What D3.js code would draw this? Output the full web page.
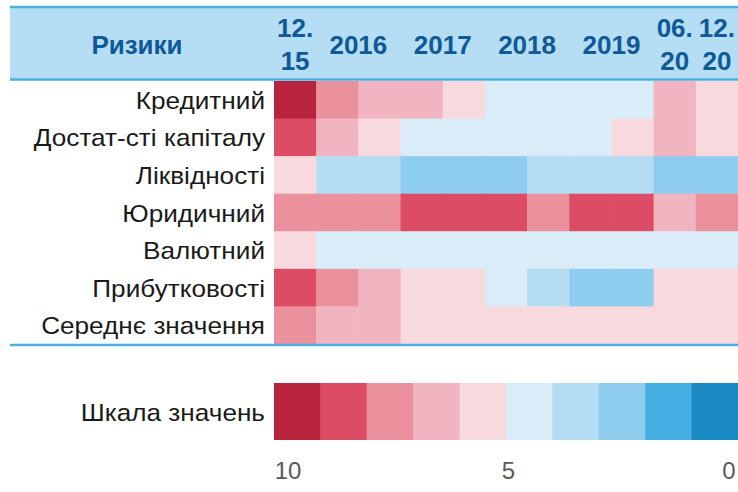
<!DOCTYPE html>
<html><head><meta charset="utf-8">
<script src="https://cdn.jsdelivr.net/npm/d3@7"></script>
<style>
html,body{margin:0;padding:0;background:#fff;}
svg{display:block;font-family:"Liberation Sans",Arial,sans-serif;}
</style></head>
<body><svg id="chart" width="738" height="492"></svg>
<script>
// ---- data ----
const risks = ["Кредитний","Достат-сті капіталу","Ліквідності","Юридичний","Валютний","Прибутковості","Середнє значення"];
const periods = ["12.15","06.16","12.16","06.17","12.17","06.18","12.18","06.19","12.19","06.20","12.20"];
const headerGroups = [
  {label:["12.","15"], from:"12.15", to:"12.15"},
  {label:["2016"], from:"06.16", to:"12.16"},
  {label:["2017"], from:"06.17", to:"12.17"},
  {label:["2018"], from:"06.18", to:"12.18"},
  {label:["2019"], from:"06.19", to:"12.19"},
  {label:["06.","20"], from:"06.20", to:"06.20"},
  {label:["12.","20"], from:"12.20", to:"12.20"}
];
const creditRisk    = [9.5,7.5,6.5,6.5,5.5,4.5,4.5,4.5,4.5,6.5,5.5];
const capitalRisk   = [8.5,6.5,5.5,4.5,4.5,4.5,4.5,4.5,5.5,6.5,5.5];
const liquidityRisk = [5.5,3.5,3.5,2.5,2.5,2.5,3.5,3.5,3.5,2.5,2.5];
const legalRisk     = [7.5,7.5,7.5,8.5,8.5,8.5,7.5,8.5,8.5,6.5,7.5];
const fxRisk        = [5.5,4.5,4.5,4.5,4.5,4.5,4.5,4.5,4.5,4.5,4.5];
const profitRisk    = [8.5,7.5,6.5,5.5,5.5,4.5,3.5,2.5,2.5,5.5,5.5];
const averageRisk   = [7.5,6.5,6.5,5.5,5.5,5.5,5.5,5.5,5.5,5.5,5.5];
const seriesValues = [creditRisk,capitalRisk,liquidityRisk,legalRisk,fxRisk,profitRisk,averageRisk];
const scaleSteps = [9.5,8.5,7.5,6.5,5.5,4.5,3.5,2.5,1.5,0.5];
const scaleTicks = [10,5,0];
const headerTitle = "Ризики";
const scaleTitle = "Шкала значень";

// ---- styles ----
const palette = ["#1a8ac5","#45afe3","#8fcdee","#b4ddf3","#d9ecf8","#f7d9de","#f0b5c0","#ea919d","#dc4c65","#b8233e"];
const headBlue = "#0f5996", lineBlue = "#4ab0e4", bandFill = "#b5ddf3";

const svg = d3.select("#chart");
const color = d3.scaleQuantize().domain([0,10]).range(palette);

const gridLeft = 274, gridRight = 738, gridTop = 81, gridBottom = 344;
const x = d3.scaleBand().domain(periods).range([gridLeft, gridRight]);
const y = d3.scaleBand().domain(risks).range([gridTop, gridBottom]);

// helper for horizontally widened plain text
function wideText(parent, px, py, str, anchor, size, fill, stretch) {
  return parent.append("text")
    .attr("transform", `translate(${px},${py}) scale(${stretch},1)`)
    .attr("text-anchor", anchor).attr("font-size", size).attr("fill", fill).text(str);
}

// header band
svg.append("rect").attr("x",10).attr("y",7).attr("width",728).attr("height",72).attr("fill",bandFill);
svg.append("line").attr("x1",10).attr("x2",738).attr("y1",7).attr("y2",7).attr("stroke",lineBlue).attr("stroke-width",2.5);
svg.append("line").attr("x1",10).attr("x2",738).attr("y1",79.5).attr("y2",79.5).attr("stroke",lineBlue).attr("stroke-width",2.5);
svg.append("text").attr("x",137).attr("y",54).attr("text-anchor","middle")
  .attr("font-size",26).attr("font-weight","bold").attr("fill",headBlue).text(headerTitle);

headerGroups.forEach(g => {
  const cx = (x(g.from) + x(g.to) + x.bandwidth())/2;
  const t = svg.append("text").attr("text-anchor","middle").attr("font-size",26)
    .attr("font-weight","bold").attr("fill",headBlue);
  if (g.label.length === 1) {
    t.append("tspan").attr("x",cx).attr("y",54).text(g.label[0]);
  } else {
    t.append("tspan").attr("x",cx).attr("y",37).text(g.label[0]);
    t.append("tspan").attr("x",cx).attr("y",70).text(g.label[1]);
  }
});

// cells
const cells = [];
risks.forEach((r,i) => periods.forEach((p,j) => cells.push({r,p,v:seriesValues[i][j]})));
svg.append("g").selectAll("rect").data(cells).join("rect")
  .attr("x",d=>x(d.p)).attr("y",d=>y(d.r))
  .attr("width",x.bandwidth()+0.5).attr("height",y.bandwidth()+0.5)
  .attr("fill",d=>color(d.v));

// row labels
const rowG = svg.append("g");
risks.forEach(r => wideText(rowG, 265, y(r)+y.bandwidth()/2+9, r, "end", 24, "#1a1a1a", 1.09));

svg.append("line").attr("x1",10).attr("x2",738).attr("y1",345).attr("y2",345).attr("stroke",lineBlue).attr("stroke-width",2.5);

// value scale
const sx = d3.scaleBand().domain(scaleSteps).range([gridLeft, gridRight]);
svg.append("g").selectAll("rect").data(scaleSteps).join("rect")
  .attr("x",d=>sx(d)).attr("y",383).attr("width",sx.bandwidth()+0.5).attr("height",57)
  .attr("fill",d=>color(d));
wideText(svg, 265, 421, scaleTitle, "end", 24, "#1a1a1a", 1.09);

const tx = d3.scaleLinear().domain([10,0]).range([288,729]);
const tickG = svg.append("g");
scaleTicks.forEach(t => wideText(tickG, tx(t), 479, String(t), "middle", 24, "#595959", 1.0));
</script></body></html>
